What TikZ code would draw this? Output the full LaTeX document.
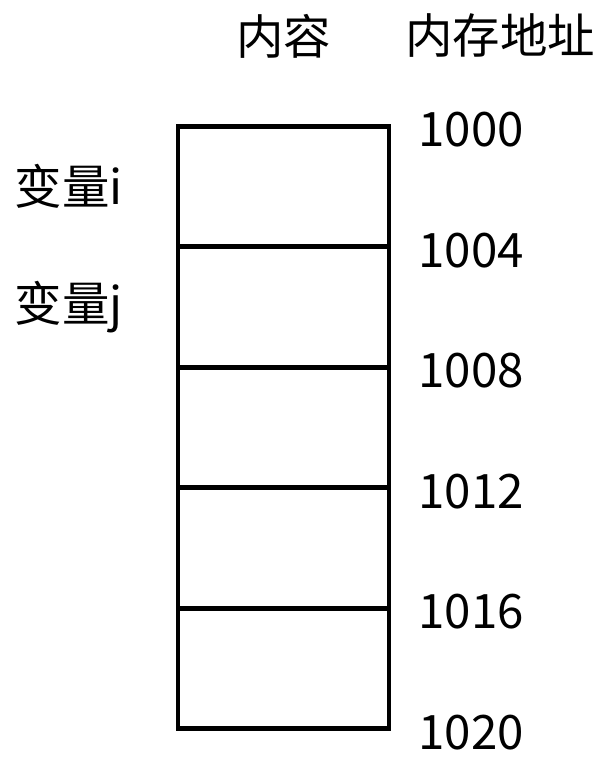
\documentclass[tikz,border=0pt]{standalone}
\usepackage{fontspec}
\setmainfont{Noto Sans CJK SC}
\usetikzlibrary{positioning}

\begin{document}
\begin{tikzpicture}[
    every node/.style={font=\fontsize{27}{32}\selectfont},
    cell/.style={draw=black, line width=2.6pt, minimum width=4.22cm,
                 minimum height=2.41cm, inner sep=0pt, outer sep=0pt},
    addr/.style={inner sep=0pt},
    varlbl/.style={inner sep=0pt},
    head/.style={inner sep=0pt},
]
\useasboundingbox (0,0) rectangle (12.12,-15.16);

% ── memory cells ─────────────────────────────────────────────
\node[cell] (c1) at (5.67,-3.73) {};
\foreach \i [count=\j from 2] in {1,...,4}
    \node[cell, below=0pt of c\i] (c\j) {};

% ── column headers ───────────────────────────────────────────
\node[head] (hcont) at (c1.north |- 0,-0.72) {内容};
\node[head] (haddr) at (10.0,-0.72) {内存地址};

% ── addresses ────────────────────────────────────────────────
\foreach \a [count=\k] in {1000,1004,1008,1012,1016}
    \node[addr, right=0.58cm of c\k.north east, yshift=-2pt] (a\k) {\a};
\node[addr, right=0.58cm of c5.south east, yshift=-2pt] (a6) {1020};

% ── variables ────────────────────────────────────────────────
\node[varlbl, left=1.1cm of c1.west] (vi) {变量i};
\node[varlbl, left=1.1cm of c2.west] (vj) {变量j};

\end{tikzpicture}
\end{document}
